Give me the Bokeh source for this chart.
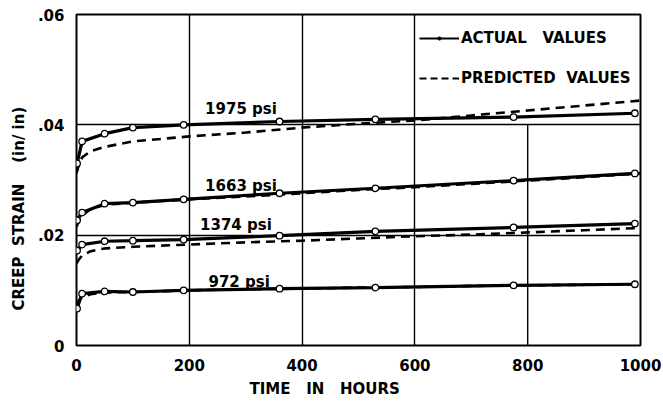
from bokeh.plotting import figure
from bokeh.models import (Legend, LegendItem, Title, FixedTicker, Range1d)
from bokeh.core.properties import value
from bokeh.embed import file_html
from bokeh.resources import INLINE

# ---------------- data ----------------
# reading times (hours) of the actual (measured) values
t_act = [1, 10, 50, 100, 190, 360, 530, 775, 990]
act_1975 = [0.0330, 0.0370, 0.0384, 0.0395, 0.0400, 0.0406, 0.0410, 0.0414, 0.0421]
act_1663 = [0.0227, 0.0241, 0.0257, 0.0259, 0.0265, 0.0276, 0.0285, 0.0299, 0.0312]
act_1374 = [0.0172, 0.0183, 0.0189, 0.0190, 0.0192, 0.0199, 0.0207, 0.0214, 0.0221]
act_972 = [0.0067, 0.0094, 0.0098, 0.0097, 0.0100, 0.0103, 0.0105, 0.0109, 0.0111]

# predicted curves
t_pred = [0, 5, 10, 25, 50, 100, 200, 300, 400, 500, 600, 700, 800, 900, 1000]
pred_1975 = [0.0312, 0.0330, 0.0341, 0.0352, 0.0360, 0.0370, 0.0379, 0.0386, 0.0395,
             0.0402, 0.0408, 0.0417, 0.0426, 0.0435, 0.0444]
pred_1663 = [0.0215, 0.0228, 0.0236, 0.0247, 0.0255, 0.0259, 0.0265, 0.0270, 0.0276,
             0.0282, 0.0287, 0.0293, 0.0299, 0.0305, 0.0312]
pred_1374 = [0.0149, 0.0157, 0.0163, 0.0171, 0.0176, 0.0179, 0.0183, 0.0187, 0.0190,
             0.0194, 0.0198, 0.0201, 0.0205, 0.0209, 0.0213]
pred_972 = [0.0075, 0.0083, 0.0088, 0.0093, 0.0096, 0.0097, 0.0100, 0.0102, 0.0103,
            0.0105, 0.0106, 0.0108, 0.0109, 0.0110, 0.0111]

# curve labels
lab_text = ["1975 psi", "1663 psi", "1374 psi", "972 psi"]
lab_x = [228, 228, 219, 234]
lab_y = [0.0428, 0.0290, 0.0219, 0.0115]

# axes
x_ticks = [0, 200, 400, 600, 800, 1000]
y_ticks = [0, 0.02, 0.04, 0.06]
y_tick_labels = ["0", ".02", ".04", ".06"]
x_grid = [200, 400, 600]
y_grid = [0.02, 0.04]
x_grid_partial = [800]
y_grid_partial_top = [0.04]

FONT = "DejaVu Sans"
NAN = float("nan")

p = figure(frame_width=564, frame_height=331,
           x_range=Range1d(0, 1000), y_range=Range1d(0, 0.06),
           output_backend="svg", toolbar_location=None,
           min_border_left=74, min_border_right=25,
           min_border_top=14, min_border_bottom=56)

p.background_fill_color = "white"
p.border_fill_color = "white"
p.outline_line_color = "black"
p.outline_line_width = 2

for ax in (p.xaxis[0], p.yaxis[0]):
    ax.axis_line_color = None
    ax.major_tick_line_color = None
    ax.minor_tick_line_color = None
    ax.major_label_text_font = FONT
    ax.major_label_text_font_size = "15px"
    ax.major_label_text_font_style = "bold"
    ax.major_label_text_color = "black"

p.xaxis.ticker = FixedTicker(ticks=x_ticks)
p.xaxis.major_label_standoff = 7
p.yaxis.ticker = FixedTicker(ticks=y_ticks)
p.yaxis.major_label_overrides = {t: l for t, l in zip(y_ticks, y_tick_labels)}
p.yaxis.major_label_standoff = 6

p.xgrid.ticker = FixedTicker(ticks=x_grid)
p.ygrid.ticker = FixedTicker(ticks=y_grid)
for g in (p.xgrid[0], p.ygrid[0]):
    g.grid_line_color = "black"
    g.grid_line_width = 1.4
    g.grid_line_alpha = 1.0

# partial gridline at 800 h (stops below the legend box)
p.segment(x0=x_grid_partial, y0=[0] * len(x_grid_partial),
          x1=x_grid_partial, y1=y_grid_partial_top,
          line_color="black", line_width=1.4)

# predicted (dashed)
for ys in (pred_1975, pred_1663, pred_1374, pred_972):
    p.line(t_pred, ys, line_color="black", line_width=2.6, line_dash="9 6")

# actual (solid with open circles)
for ys in (act_1975, act_1663, act_1374, act_972):
    p.line(t_act, ys, line_color="black", line_width=3.2)
    p.scatter(t_act, ys, marker="circle", size=6.5, fill_color="white",
              line_color="black", line_width=1.3)

# curve labels
p.text(x=lab_x, y=lab_y, text=lab_text, text_font=value(FONT),
       text_font_size="15px", text_font_style="bold",
       text_baseline="alphabetic", text_align="left", text_color="black")

# legend (renderers without visible data)
leg_line = p.line([NAN], [NAN], line_color="black", line_width=2)
leg_dot = p.scatter([NAN], [NAN], marker="circle", size=3, fill_color="black",
                    line_color="black")
leg_dash = p.line([NAN], [NAN], line_color="black", line_width=2, line_dash="7 4")

legend = Legend(items=[LegendItem(label="ACTUAL\u00a0\u00a0\u00a0VALUES", renderers=[leg_line, leg_dot]),
                       LegendItem(label="PREDICTED\u00a0\u00a0VALUES", renderers=[leg_dash])],
                location=(343, 257), orientation="vertical",
                glyph_width=40, glyph_height=8, label_height=20,
                label_standoff=2, spacing=20, padding=0, margin=0,
                border_line_color=None, background_fill_alpha=0,
                label_text_font=FONT, label_text_font_size="15px",
                label_text_font_style="bold", label_text_color="black")
p.add_layout(legend, "center")

xt = Title(text="TIME\u00a0\u00a0\u00a0IN\u00a0\u00a0\u00a0HOURS", align="left", offset=173,
           text_font=FONT, text_font_size="15px", text_font_style="bold",
           text_color="black", standoff=9)
p.add_layout(xt, "below")
yt = Title(text="CREEP\u00a0\u00a0STRAIN\u00a0\u00a0\u00a0\u00a0(in/\u00a0in)", align="left", offset=35,
           text_font=FONT, text_font_size="15px", text_font_style="bold",
           text_color="black", standoff=14)
p.add_layout(yt, "left")

open("out.html", "w").write(file_html(p, INLINE))
